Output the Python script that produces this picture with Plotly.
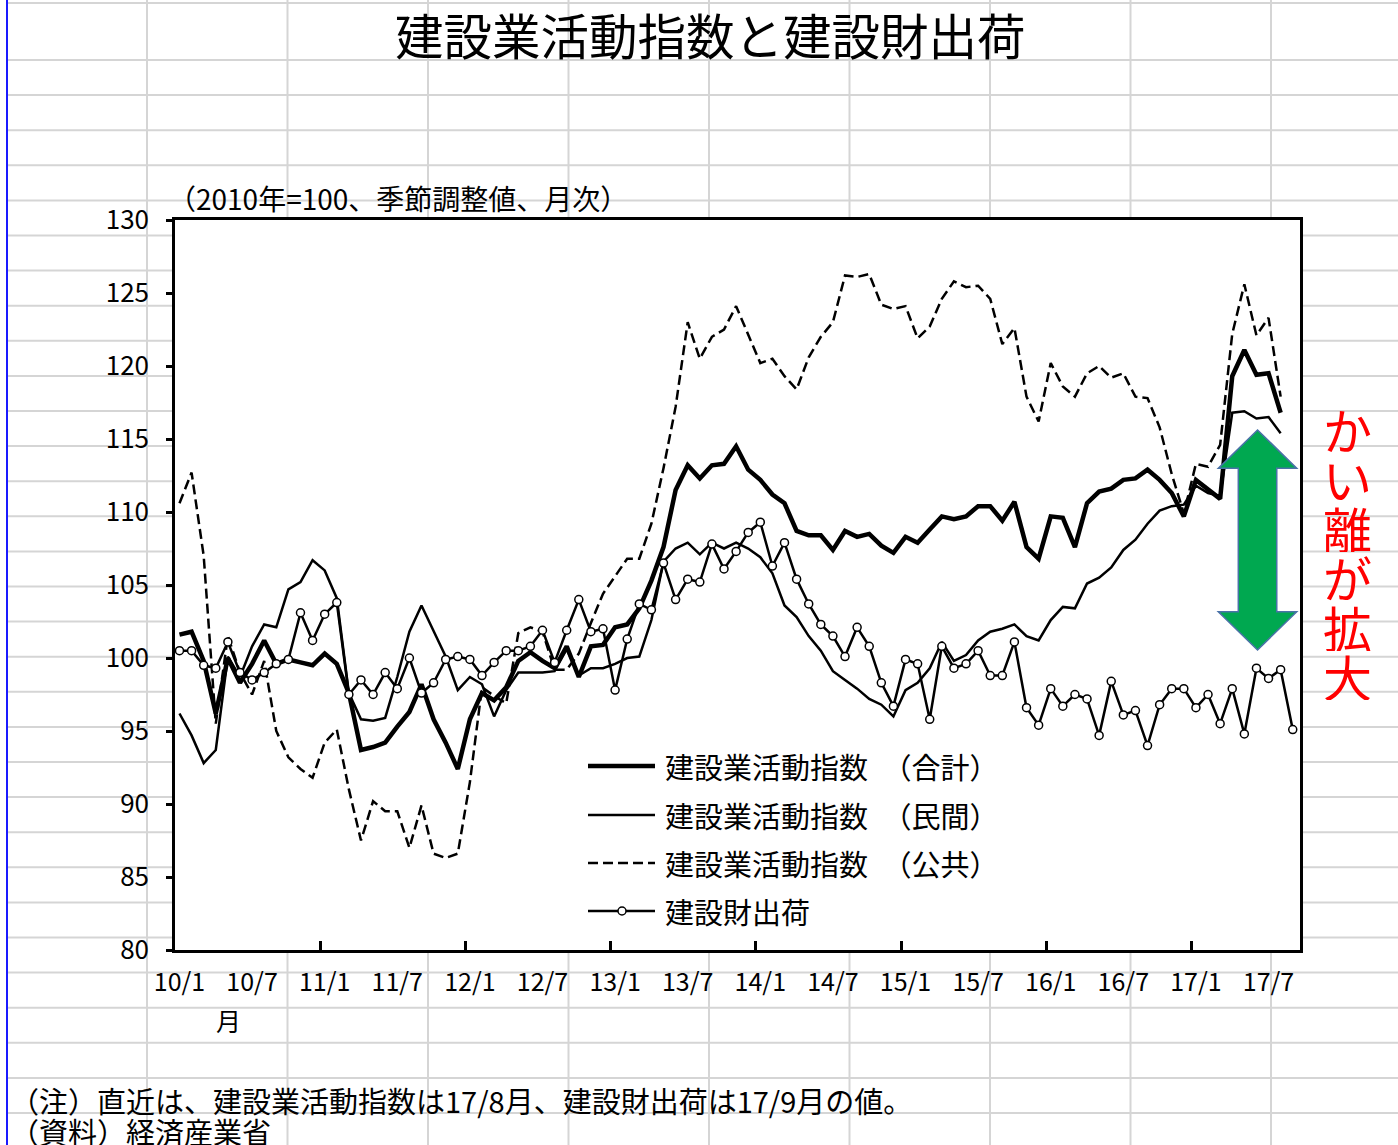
import plotly.graph_objects as go

# ---------------- canvas / layout constants ----------------
W, H = 1398, 1145
ML, MR, MT, MB = 175, 98, 220, 195
PW, PH = W - ML - MR, H - MT - MB
FONT = "Noto Sans CJK JP"


def px(xp):
    return (xp - ML) / PW


def py(yp):
    return (H - MB - yp) / PH


# ---------------- texts ----------------
title_text = "建設業活動指数と建設財出荷"
unit_text = "（2010年=100、季節調整値、月次）"
note_text = "（注）直近は、建設業活動指数は17/8月、建設財出荷は17/9月の値。"
source_text = "（資料）経済産業省"
callout_text = "かい離が拡大"
axis_unit_text = "月"
series_names = ["建設業活動指数　（合計）", "建設業活動指数　（民間）",
                "建設業活動指数　（公共）", "建設財出荷"]

# ---------------- data (monthly, 2010/1 ...) ----------------
months = [f"{(2010 + k // 12) % 100}/{k % 12 + 1}" for k in range(93)]
tick_labels = ["10/1", "10/7", "11/1", "11/7", "12/1", "12/7", "13/1", "13/7",
               "14/1", "14/7", "15/1", "15/7", "16/1", "16/7", "17/1", "17/7"]
y_ticks = [80, 85, 90, 95, 100, 105, 110, 115, 120, 125, 130]

total = [101.6, 101.8, 99.8, 96.2, 100.0, 98.3, 99.6, 101.2, 99.6, 99.9, 99.7, 99.5,
         100.3, 99.6, 97.6, 93.7, 93.9, 94.2, 95.3, 96.3, 98.2, 95.8, 94.2, 92.4,
         95.8, 97.6, 97.1, 98.0, 99.8, 100.4, 99.8, 99.3, 100.8, 98.7, 100.8, 100.9,
         102.1, 102.3, 103.4, 105.3, 107.6, 111.5, 113.2, 112.3, 113.2, 113.3, 114.5, 112.9,
         112.2, 111.2, 110.6, 108.7, 108.4, 108.4, 107.4, 108.7, 108.3, 108.5, 107.7, 107.2,
         108.3, 107.9, 108.8, 109.7, 109.5, 109.7, 110.4, 110.4, 109.4, 110.7, 107.6, 106.8,
         109.7, 109.6, 107.6, 110.6, 111.4, 111.6, 112.2, 112.3, 112.9, 112.2, 111.3, 109.7,
         112.2, 111.5, 110.9, 119.3, 121.1, 119.4, 119.5, 116.8]

private = [96.2, 94.7, 92.8, 93.7, 100.1, 98.7, 100.8, 102.3, 102.1, 104.7, 105.2, 106.7,
           106.0, 104.1, 97.6, 95.8, 95.7, 95.9, 98.7, 101.8, 103.6, 101.9, 100.1, 97.8,
           98.7, 98.2, 96.0, 97.8, 99.0, 99.0, 99.0, 99.1, 100.6, 98.8, 99.3, 99.3,
           99.6, 100.0, 100.1, 102.6, 106.6, 107.5, 107.9, 107.1, 107.9, 107.5, 107.9, 107.5,
           106.9, 105.8, 103.6, 102.8, 101.5, 100.5, 99.1, 98.5, 97.9, 97.2, 96.8, 96.0,
           97.8, 98.3, 99.3, 101.1, 99.8, 100.2, 101.2, 101.8, 102.0, 102.3, 101.5, 101.2,
           102.6, 103.5, 103.4, 105.1, 105.5, 106.2, 107.4, 108.1, 109.2, 110.1, 110.4, 110.5,
           111.8, 111.3, 111.1, 116.8, 116.9, 116.4, 116.5, 115.4]

public = [110.6, 112.7, 107.0, 95.5, 101.5, 99.0, 97.5, 99.8, 95.0, 93.2, 92.4, 91.8,
          94.2, 95.1, 91.0, 87.5, 90.2, 89.5, 89.5, 87.0, 89.9, 86.6, 86.3, 86.6,
          91.5, 98.0, 97.4, 96.9, 101.7, 102.1, 101.8, 99.2, 99.2, 100.3, 102.4, 104.4,
          105.6, 106.8, 106.8, 109.2, 113.0, 117.2, 123.0, 120.5, 122.0, 122.5, 124.1, 122.2,
          120.2, 120.5, 119.3, 118.4, 120.6, 122.0, 123.0, 126.2, 126.1, 126.3, 124.2, 123.9,
          124.1, 121.9, 122.7, 124.6, 125.8, 125.4, 125.5, 124.6, 121.5, 122.6, 117.9, 116.2,
          120.2, 118.6, 117.9, 119.5, 120.0, 119.2, 119.5, 117.9, 117.8, 115.8, 112.6, 109.9,
          113.3, 113.1, 114.6, 122.2, 125.6, 122.1, 123.3, 117.9]

shipments = [100.5, 100.5, 99.5, 99.3, 101.1, 99.0, 98.5, 99.0, 99.6, 99.9, 103.1, 101.2,
             103.0, 103.8, 97.5, 98.5, 97.5, 99.0, 97.9, 100.0, 97.6, 98.3, 99.9, 100.1,
             99.9, 98.8, 99.7, 100.5, 100.5, 100.8, 101.9, 99.7, 101.9, 104.0, 101.8, 102.0,
             97.8, 101.3, 103.7, 103.3, 106.5, 104.0, 105.4, 105.2, 107.8, 106.1, 107.3, 108.6,
             109.3, 106.3, 107.9, 105.4, 103.7, 102.3, 101.5, 100.1, 102.1, 100.8, 98.3, 96.7,
             99.9, 99.6, 95.8, 100.8, 99.3, 99.6, 100.5, 98.8, 98.8, 101.1, 96.6, 95.4,
             97.9, 96.7, 97.5, 97.2, 94.7, 98.4, 96.1, 96.4, 94.0, 96.8, 97.9, 97.9,
             96.6, 97.5, 95.5, 97.9, 94.8, 99.3, 98.6, 99.2, 95.1]

x_act = list(range(len(total)))
x_ship = list(range(len(shipments)))
label_pos = [months.index(lbl) for lbl in tick_labels]
year_ticks = [months.index(lbl) - 0.37 for lbl in tick_labels[::2]]
X_RANGE = [-0.37, 92.6]

fig = go.Figure()

fig.add_trace(go.Scatter(x=x_act, y=public, mode="lines", name=series_names[2],
                         line=dict(color="black", width=2.5, dash="10px,5px")))
fig.add_trace(go.Scatter(x=x_act, y=private, mode="lines", name=series_names[1],
                         line=dict(color="black", width=2.5)))
fig.add_trace(go.Scatter(x=x_act, y=total, mode="lines", name=series_names[0],
                         line=dict(color="black", width=4.5)))
fig.add_trace(go.Scatter(x=x_ship, y=shipments, mode="lines+markers", name=series_names[3],
                         line=dict(color="black", width=2.5),
                         marker=dict(symbol="circle", size=8, color="white",
                                     line=dict(color="black", width=1.5))))
# carrier for the yearly tick marks axis
fig.add_trace(go.Scatter(x=[], y=[], xaxis="x2", showlegend=False, hoverinfo="skip"))

shapes = []
GRID = "#d5d5d5"
# spreadsheet gridlines behind the chart
col_x = [147 + 140.5 * k for k in range(9)]
row_y = [3] + [60 + 35.1 * k for k in range(31)]
for cx in col_x:
    shapes.append(dict(type="line", xref="paper", yref="paper", layer="below",
                       x0=px(cx), x1=px(cx), y0=py(0), y1=py(H),
                       line=dict(color=GRID, width=2)))
for ry in row_y:
    shapes.append(dict(type="line", xref="paper", yref="paper", layer="below",
                       x0=px(7), x1=px(W), y0=py(ry), y1=py(ry),
                       line=dict(color=GRID, width=2)))
# white plot area
shapes.append(dict(type="rect", xref="paper", yref="paper", layer="below",
                   x0=0, x1=1, y0=0, y1=1, fillcolor="white", line=dict(width=0)))
# blue sheet edge on the left
shapes.append(dict(type="line", xref="paper", yref="paper", layer="below",
                   x0=px(7), x1=px(7), y0=py(0), y1=py(H),
                   line=dict(color="#1a1aff", width=2)))

# green double arrow (in data coordinates)
ax_l, ax_sl, ax_c, ax_sr, ax_r = 85.85, 87.5, 89.09, 90.68, 92.33
ay_top, ay_hb1, ay_hb2, ay_bot = 115.62, 112.99, 103.17, 100.55
arrow_path = (f"M {ax_c},{ay_top} L {ax_r},{ay_hb1} L {ax_sr},{ay_hb1} L {ax_sr},{ay_hb2} "
              f"L {ax_r},{ay_hb2} L {ax_c},{ay_bot} L {ax_l},{ay_hb2} L {ax_sl},{ay_hb2} "
              f"L {ax_sl},{ay_hb1} L {ax_l},{ay_hb1} Z")
shapes.append(dict(type="path", xref="x", yref="y", path=arrow_path, layer="above",
                   fillcolor="#00a850", line=dict(color="#4a72a8", width=1.5)))

# manual legend samples
leg_rows = [766, 815, 863, 911]
leg_x0, leg_x1, leg_tx = 588, 655, 663
leg_styles = [dict(width=4.5), dict(width=2.5), dict(width=2.5, dash="10px,5px"), dict(width=2.5)]
for ry, st in zip(leg_rows, leg_styles):
    shapes.append(dict(type="line", xref="paper", yref="paper", layer="above",
                       x0=px(leg_x0), x1=px(leg_x1), y0=py(ry), y1=py(ry),
                       line=dict(color="black", **st)))
cx_, cy_, r_ = 622, leg_rows[3], 4
shapes.append(dict(type="circle", xref="paper", yref="paper", layer="above",
                   x0=px(cx_ - r_), x1=px(cx_ + r_), y0=py(cy_ + r_), y1=py(cy_ - r_),
                   fillcolor="white", line=dict(color="black", width=1.5)))

annotations = []


def text(s, x, y, size, xanchor="left", color="black", height=None):
    ann = dict(text=s, x=px(x), y=py(y), xref="paper", yref="paper",
               xanchor=xanchor, yanchor="middle", showarrow=False,
               font=dict(family=FONT, size=size, color=color))
    if height is not None:
        ann["height"] = height
    annotations.append(ann)


text(title_text, 710, 34, 48.5, xanchor="center")
text(unit_text, 166, 198, 28)
for ry, name in zip(leg_rows, series_names):
    text(name, leg_tx, ry, 29)
text(axis_unit_text, 228, 1020, 25, xanchor="center")
text(note_text, 8, 1100, 29)
text(source_text, 8, 1131, 29)
for k, ch in enumerate(callout_text):
    text(ch, 1347, 428 + 49.5 * k, 49, xanchor="center", color="#ff0000", height=49)

fig.update_layout(
    width=W, height=H,
    margin=dict(l=ML, r=MR, t=MT, b=MB, pad=0),
    paper_bgcolor="white", plot_bgcolor="rgba(0,0,0,0)",
    showlegend=False,
    font=dict(family=FONT, color="black"),
    xaxis=dict(range=X_RANGE, tickvals=label_pos, ticktext=tick_labels,
               ticks="", showgrid=False, zeroline=False,
               showline=True, linecolor="black", linewidth=2.5, mirror=True,
               tickfont=dict(family=FONT, size=25), ticklabelstandoff=8),
    xaxis2=dict(range=X_RANGE, overlaying="x", anchor="y", side="bottom",
                tickvals=year_ticks, ticks="inside", ticklen=9, tickwidth=2.5,
                tickcolor="black", showticklabels=False, showgrid=False,
                zeroline=False, showline=False),
    yaxis=dict(range=[80, 130], tickvals=y_ticks, ticks="outside", ticklen=6,
               tickwidth=2.5, tickcolor="black", showgrid=False, zeroline=False,
               showline=True, linecolor="black", linewidth=2.5, mirror=True,
               tickfont=dict(family=FONT, size=26), ticklabelstandoff=12),
    shapes=shapes,
    annotations=annotations,
)

fig.write_html("out.html")
